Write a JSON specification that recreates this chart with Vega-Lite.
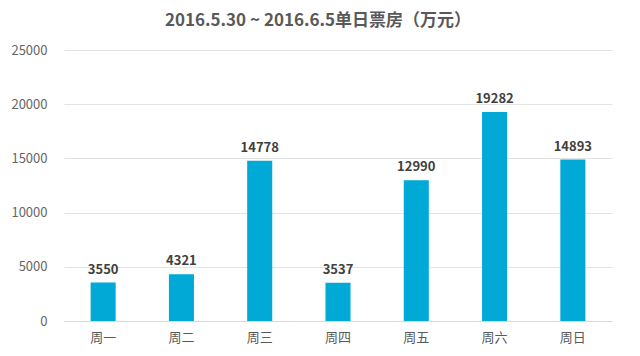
{
  "$schema": "https://vega.github.io/schema/vega-lite/v6.json",
  "autosize": {"type": "none"},
  "width": 548,
  "height": 271,
  "padding": {"left": 64, "top": 50, "right": 28, "bottom": 35},
  "background": "#ffffff",
  "title": {
    "text": "2016.5.30 ~ 2016.6.5单日票房（万元）",
    "font": "Noto Sans CJK SC",
    "fontSize": 17,
    "fontWeight": "bold",
    "color": "#595959",
    "anchor": "middle",
    "frame": "group",
    "dx": -20,
    "offset": 14
  },
  "data": {
    "values": [
      {"day": "周一", "value": 3550},
      {"day": "周二", "value": 4321},
      {"day": "周三", "value": 14778},
      {"day": "周四", "value": 3537},
      {"day": "周五", "value": 12990},
      {"day": "周六", "value": 19282},
      {"day": "周日", "value": 14893}
    ]
  },
  "encoding": {
    "x": {
      "field": "day",
      "type": "nominal",
      "sort": null,
      "scale": {"paddingInner": 0.68, "paddingOuter": 0.34},
      "axis": {
        "title": null,
        "labelAngle": 0,
        "domainColor": "#d9d9d9",
        "ticks": false,
        "labelPadding": 10,
        "labelFont": "Noto Sans CJK SC",
        "labelFontSize": 13,
        "labelColor": "#595959"
      }
    },
    "y": {
      "field": "value",
      "type": "quantitative",
      "scale": {"domain": [0, 25000], "nice": false},
      "axis": {
        "title": null,
        "format": "d",
        "values": [0, 5000, 10000, 15000, 20000, 25000],
        "domain": false,
        "ticks": false,
        "labelPadding": 17,
        "gridColor": "#e3e3e3",
        "labelFont": "Noto Sans CJK SC",
        "labelFontSize": 13,
        "labelColor": "#666666"
      }
    }
  },
  "layer": [
    {"mark": {"type": "bar", "color": "#00a9d6"}},
    {
      "mark": {
        "type": "text",
        "baseline": "bottom",
        "dy": -6,
        "font": "Noto Sans CJK SC",
        "fontSize": 13,
        "fontWeight": "bold",
        "color": "#404040"
      },
      "encoding": {"text": {"field": "value", "type": "quantitative", "format": "d"}}
    }
  ],
  "config": {"view": {"stroke": null}}
}
